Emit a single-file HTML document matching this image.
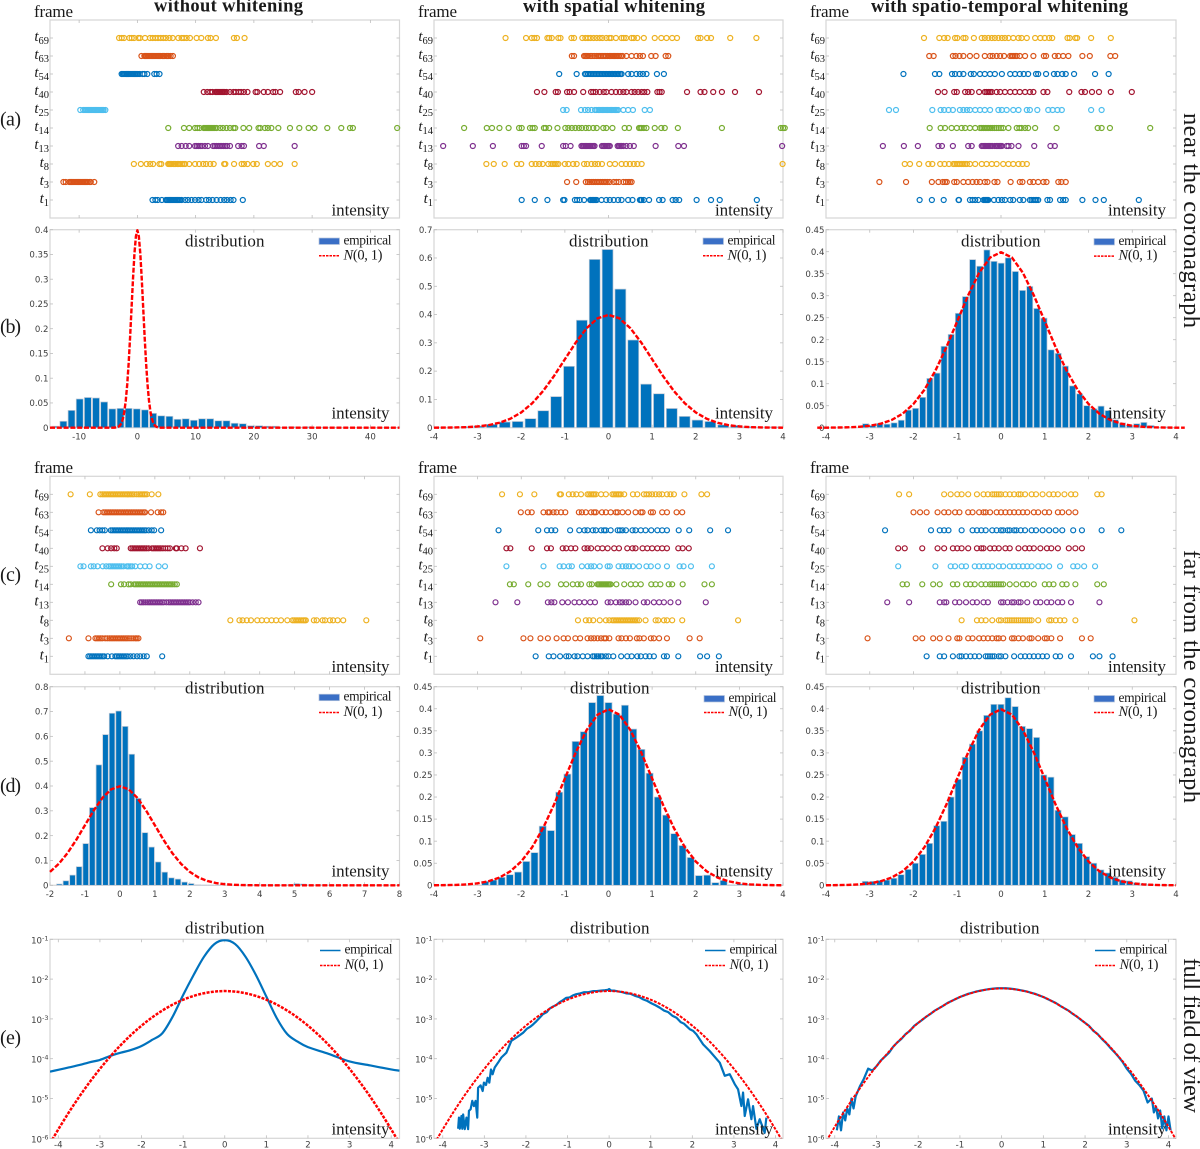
<!DOCTYPE html>
<html lang="en">
<head>
<meta charset="utf-8">
<title>Whitening comparison charts</title>
<style>
html,body{margin:0;padding:0;background:#fff;}
svg{display:block;}
text{font-family:"Liberation Serif","DejaVu Serif",serif;fill:#1a1a1a;}
.num{font-family:"DejaVu Sans","Liberation Sans",sans-serif;font-size:8.6px;fill:#404040;}
</style>
</head>
<body>
<svg id="figure" xmlns="http://www.w3.org/2000/svg" width="1200" height="1149" viewBox="0 0 1200 1149">
<rect x="0" y="0" width="1200" height="1149" fill="#fff"/>
<text x="154" y="11.5" font-size="18.5" font-weight="bold" textLength="149" lengthAdjust="spacing">without whitening</text>
<text x="523" y="12" font-size="18.5" font-weight="bold" textLength="182" lengthAdjust="spacing">with spatial whitening</text>
<text x="871" y="12" font-size="18.5" font-weight="bold" textLength="257" lengthAdjust="spacing">with spatio-temporal whitening</text>
<text x="0" y="125.5" font-size="20" textLength="21">(a)</text>
<text x="0" y="333" font-size="20" textLength="21">(b)</text>
<text x="0" y="581" font-size="20" textLength="21">(c)</text>
<text x="0" y="792" font-size="20" textLength="21">(d)</text>
<text x="0" y="1044" font-size="20" textLength="21">(e)</text>
<text transform="translate(1184 113) rotate(90)" font-size="24.5" textLength="215" lengthAdjust="spacing">near the coronagraph</text>
<text transform="translate(1184 550) rotate(90)" font-size="24.5" textLength="253" lengthAdjust="spacing">far from the coronagraph</text>
<text transform="translate(1184 958) rotate(90)" font-size="24.5" textLength="155" lengthAdjust="spacing">full field of view</text>
</svg>
<script>
// ---------- categories and tick labels ----------
const frameSubscripts = ['1','3','8','13','14','25','40','54','63','69'];
const frameColors = ['#0072BD','#D95319','#EDB120','#7E2F8E','#77AC30','#4DBEEE','#A2142F','#0072BD','#D95319','#EDB120'];
const ticksB1 = [-10,0,10,20,30,40];
const ticksStd = [-4,-3,-2,-1,0,1,2,3,4];
const ticksD1 = [-2,-1,0,1,2,3,4,5,6,7,8];
const stripTicksA1 = [-10,0,10,20,30,40];
const stripTicksA23 = [0];
const stripTicksC1 = [-1,0,1,2,3,4,5,6,7];
const stripTicksC23 = [-3,-2,-1,0,1,2,3];
const yTicksB1 = ['0','0.05','0.1','0.15','0.2','0.25','0.3','0.35','0.4'];
const yTicksB2 = ['0','0.1','0.2','0.3','0.4','0.5','0.6','0.7'];
const yTicks45 = ['0','0.05','0.1','0.15','0.2','0.25','0.3','0.35','0.4','0.45'];
const yTicksD1 = ['0','0.1','0.2','0.3','0.4','0.5','0.6','0.7','0.8'];
const logDecades = [-1,-2,-3,-4,-5,-6];

// ---------- strip plots: one list per frame, t1 t3 t8 t13 t14 t25 t40 t54 t63 t69 ----------
const stripA1 = [
[2.6,3.1,3.5,4.2,4.9,5.1,5.3,5.5,5.7,5.9,6.1,6.3,6.5,6.7,6.9,7.1,7.3,7.6,8.2,8.7,9.3,9.9,10.5,11,11.8,12.3,12.9,13.6,14.3,14.9,15.4,16,16.5,18.1],
[-12.7,-12.3,-11.7,-11.5,-11.3,-11.1,-10.9,-10.7,-10.5,-10.3,-10.1,-9.9,-9.7,-9.5,-9.3,-9.1,-8.9,-8.7,-8.5,-8.2,-8,-7.4],
[-.6,.6,1.6,2.2,2.7,3.8,4.1,5.3,5.5,5.7,5.9,6.2,6.4,6.6,6.9,7.1,7.4,7.7,8,8.2,8.9,9.9,10.6,11.3,11.8,12.5,13.1,14.9,15.1,16.6,17.9,18.3,18.9,19.9,20.5,22.4,23.5,24.5,27],
[7,7.6,8.3,8.9,9.9,10.2,10.5,10.8,11.1,11.6,12.1,13,13.3,13.6,13.9,14.2,14.5,14.8,15.1,15.4,15.9,17.3,17.9,18.3,20.9,21.7,27],
[5.3,8,8.9,9.9,10.3,10.7,11.4,11.6,11.8,12,12.2,12.4,12.6,12.8,13,13.3,13.6,14.2,14.7,15.3,15.9,16.5,16.8,18.2,19.2,20.8,21.1,21.9,22.4,23,24.2,26.2,27.8,29.4,30.4,32.6,35,36.5,37,44.6],
[-9.8,-9.3,-9,-8.8,-8.6,-8.4,-8.2,-8,-7.8,-7.6,-7.4,-7.2,-7,-6.8,-6.6,-6.4,-6.2,-6,-5.8,-5.5],
[11.4,12,12.5,12.9,13.4,13.6,13.8,14,14.2,14.4,14.6,14.8,15,15.3,15.9,16.5,16.9,17.4,17.8,18.3,18.9,20.3,20.6,21.7,22.4,23.3,23.7,24.5,27.2,27.7,28.7,30],
[-2.7,-2.5,-2.3,-2.1,-1.9,-1.7,-1.5,-1.3,-1.1,-.9,-.7,-.5,-.3,-.1,.1,.4,.9,1.2,1.7,2.9,3.3,3.8],
[.7,1.2,1.4,1.6,1.8,2,2.2,2.4,2.6,2.8,3,3.2,3.4,3.6,3.8,4,4.3,4.5,4.7,5,5.2,5.4,5.7,6.1],
[-3.14,-2.69,-2.29,-1.37,-.97,-.57,.17,.46,1.31,2.17,2.63,3.09,3.54,4,4.46,4.91,5.49,6.06,7.03,7.6,8,8.46,9.03,10.17,10.97,12.11,12.57,13.49,16.57,17.09,18.4]
];
const stripA2 = [
[-1.99,-1.69,-1.4,-1.04,-1.01,-.77,-.72,-.66,-.56,-.42,-.4,-.37,-.35,-.33,-.3,-.27,-.16,-.05,.03,.12,.22,.3,.45,.55,.72,.74,.76,.81,.93,1.16,1.24,1.47,1.54,1.62,2.02,2.35,2.55,3.4],
[-.95,-.74,-.52,-.47,-.43,-.38,-.34,-.3,-.26,-.22,-.18,-.14,-.1,-.06,-.02,.03,.12,.18,.24,.34,.4,.45,.49,.53],
[-2.8,-2.63,-2.38,-2.1,-2,-1.76,-1.67,-1.59,-1.51,-1.38,-1.31,-1.27,-1.23,-1.19,-1.15,-1,-.92,-.81,-.73,-.56,-.49,-.39,-.31,-.24,-.15,.03,.15,.3,.4,.49,.58,.66,.76,3.99],
[-3.79,-3.11,-2.65,-1.99,-1.94,-1.89,-1.53,-1.04,-.98,-.87,-.62,-.59,-.56,-.53,-.5,-.47,-.44,-.41,-.38,-.35,-.32,-.15,-.12,-.09,-.06,-.03,0,.03,.21,.24,.27,.3,.34,.41,.49,.58,1.08,1.6,1.73,3.98],
[-3.31,-2.79,-2.67,-2.5,-2.29,-2.05,-1.99,-1.8,-1.74,-1.69,-1.48,-1.44,-1.36,-1.17,-.99,-.92,-.84,-.76,-.68,-.61,-.52,-.45,-.35,-.27,-.12,-.05,.09,.37,.47,.7,.73,.76,.81,.87,1.06,1.21,1.29,1.59,2.6,3.95,4,4.04],
[-1.04,-.96,-.63,-.54,-.47,-.39,-.31,-.27,-.23,-.2,-.17,-.14,-.11,-.08,-.05,-.02,.01,.04,.07,.1,.13,.16,.19,.22,.34,.45,.56,.83,.95],
[-1.64,-1.47,-1.21,-1.16,-.95,-.89,-.79,-.58,-.4,-.35,-.29,-.2,-.11,-.05,.07,.17,.26,.34,.41,.53,.6,.68,.76,.82,.89,1.12,1.17,1.22,1.8,2.11,2.2,2.4,2.6,2.9,3.45],
[-1.13,-.73,-.54,-.51,-.47,-.43,-.4,-.36,-.33,-.29,-.26,-.22,-.19,-.15,-.12,-.08,-.05,-.01,.02,.06,.09,.13,.16,.2,.23,.27,.3,.45,.53,.64,.72,.79,.87,1.11,1.27],
[-.84,-.79,-.56,-.53,-.5,-.47,-.42,-.38,-.33,-.28,-.24,-.2,-.17,-.13,-.1,-.06,-.02,.02,.05,.08,.11,.14,.17,.2,.24,.28,.32,.41,.53,.64,.72,.79,.98,1.08,1.31,1.37],
[-2.36,-1.89,-1.76,-1.7,-1.64,-1.4,-1.36,-1.3,-1.15,-1.1,-.85,-.79,-.6,-.53,-.47,-.41,-.34,-.27,-.2,-.14,-.05,.02,.06,.17,.3,.35,.4,.53,.58,.66,.81,1.06,1.21,1.33,1.46,1.57,2.05,2.11,2.26,2.35,2.79,3.39]
];
const stripA3 = [
[-1.86,-1.58,-1.31,-.97,-.96,-.71,-.65,-.59,-.52,-.4,-.37,-.35,-.33,-.31,-.29,-.16,-.06,.02,.09,.21,.28,.43,.51,.66,.7,.74,.78,.81,.85,1.06,1.12,1.35,1.42,1.48,1.86,2.16,2.35,3.15],
[-2.78,-2.17,-1.58,-1.43,-1.33,-1.28,-1.24,-1.07,-1.01,-.86,-.75,-.65,-.56,-.48,-.37,-.31,-.15,-.08,.22,.43,.49,.66,.74,.85,.97,1.04,1.31,1.38,1.48],
[-2.2,-2.08,-1.87,-1.66,-1.57,-1.39,-1.29,-1.19,-1.09,-1.05,-1.01,-.97,-.94,-.9,-.86,-.82,-.78,-.71,-.59,-.44,-.33,-.21,-.1,.05,.17,.28,.4,.49,.59],
[-2.7,-2.22,-1.9,-1.43,-1.35,-1.1,-.75,-.67,-.44,-.41,-.38,-.35,-.32,-.29,-.26,-.23,-.2,-.14,-.1,-.07,-.04,-.01,.02,.13,.17,.24,.4,.76,1.13,1.23],
[-1.63,-1.38,-1.28,-1.13,-1.01,-.9,-.82,-.71,-.59,-.48,-.44,-.4,-.36,-.32,-.28,-.24,-.2,-.15,-.1,-.05,0,.05,.17,.36,.42,.47,.55,.62,.78,1.27,2.21,2.3,2.49,3.41],
[-2.56,-2.4,-1.57,-1.38,-1.3,-1.2,-1.1,-.94,-.86,-.78,-.71,-.59,-.48,-.37,-.25,-.06,.02,.13,.28,.4,.59,.66,.83,1.08,1.18,1.29,1.39,2.06,2.3],
[-1.44,-1.29,-1.07,-1.01,-.82,-.75,-.67,-.5,-.37,-.33,-.29,-.25,-.21,-.1,-.02,.09,.21,.32,.43,.55,.66,.74,.97,1.06,1.56,1.84,1.92,2.08,2.24,2.51,2.99],
[-2.23,-1.51,-1.41,-1.12,-1.05,-.95,-.86,-.69,-.62,-.48,-.37,-.25,-.14,.02,.21,.32,.43,.52,.62,.8,.85,1.03,1.21,1.29,1.4,1.48,1.67,2.15,2.46],
[-1.64,-1.54,-1.1,-1.04,-.95,-.86,-.71,-.56,-.37,-.25,-.19,-.1,-.02,.07,.21,.25,.28,.32,.36,.43,.55,.74,.98,1.03,1.23,1.31,1.42,1.54,1.86,2.03,2.5,2.61],
[-1.76,-1.41,-1.3,-1.22,-1.05,-1,-.86,-.81,-.62,-.44,-.37,-.29,-.21,-.14,-.06,.02,.09,.17,.28,.4,.47,.59,.78,.9,1,1.1,1.17,1.52,1.57,1.7,1.74,2.06,2.51]
];
const stripC1 = [
[-.9,-.85,-.8,-.75,-.7,-.65,-.6,-.55,-.5,-.45,-.35,-.23,-.13,-.08,-.03,.02,.07,.12,.17,.22,.3,.39,.49,.58,.68,.77,1.21],
[-1.46,-.9,-.7,-.65,-.6,-.55,-.5,-.42,-.36,-.3,-.25,-.2,-.15,-.1,-.05,0,.05,.1,.15,.2,.26,.32,.38,.44,.48,.53],
[3.16,3.42,3.51,3.63,3.75,3.93,4.06,4.2,4.34,4.47,4.61,4.79,4.94,4.99,5.04,5.09,5.14,5.19,5.24,5.28,5.32,5.55,5.63,5.8,5.87,6.01,6.1,6.23,6.39,7.05],
[.58,.63,.68,.74,.8,.85,.9,.95,1,1.05,1.1,1.15,1.2,1.25,1.33,1.4,1.45,1.5,1.55,1.6,1.65,1.7,1.75,1.8,1.85,1.9,1.95,2,2.08,2.17,2.25],
[-.25,.03,.12,.25,.31,.41,.46,.51,.56,.61,.66,.71,.76,.81,.86,.91,.96,1.01,1.06,1.11,1.16,1.21,1.26,1.31,1.36,1.41,1.46,1.51,1.57,1.63],
[-1.13,-1.04,-.83,-.75,-.64,-.49,-.39,-.31,-.26,-.21,-.16,-.11,-.06,-.01,.04,.1,.2,.25,.3,.35,.44,.58,.72,.85,1.11,1.29],
[-.5,-.35,-.25,-.16,-.09,.31,.36,.41,.46,.51,.56,.61,.66,.71,.76,.82,.92,.97,1.02,1.07,1.12,1.17,1.23,1.3,1.37,1.43,1.6,1.63,1.76,1.88,2.29],
[-.83,-.66,-.58,-.5,-.43,-.26,-.21,-.16,-.11,-.06,-.01,.04,.09,.14,.19,.24,.29,.34,.39,.44,.49,.54,.59,.64,.69,.74,.82,.91,.98,1.18],
[-.61,-.47,-.42,-.37,-.32,-.27,-.22,-.17,-.12,-.07,-.02,.03,.08,.13,.18,.23,.28,.33,.38,.43,.48,.53,.58,.63,.68,.72,.89,1.08,1.18,1.24],
[-1.41,-.86,-.56,-.5,-.45,-.4,-.35,-.3,-.25,-.2,-.15,-.1,-.05,0,.05,.1,.15,.2,.25,.3,.35,.4,.47,.53,.58,.63,.68,.72,.77,.91,1.1]
];
const stripC2 = [
[-1.67,-1.37,-1.26,-1.11,-.97,-.91,-.78,-.71,-.59,-.48,-.36,-.32,-.27,-.23,-.18,-.14,-.06,0,.11,.29,.43,.53,.66,.74,.85,.94,1.04,1.27,1.34,1.6,2.1,2.26,2.53],
[-2.94,-1.95,-1.79,-1.56,-1.39,-1.19,-1.03,-.93,-.76,-.65,-.48,-.4,-.33,-.25,-.17,-.1,-.06,.02,.23,.3,.4,.49,.65,.71,.81,.97,1.04,1.16,1.34,1.86,2.09],
[-.7,-.52,-.44,-.35,-.2,-.06,.02,.09,.13,.17,.21,.25,.29,.33,.37,.41,.45,.49,.53,.57,.61,.65,.7,.85,1.08,1.14,1.27,1.34,1.46,1.69,2.97],
[-2.59,-2.09,-1.39,-1.31,-1.24,-1.06,-.93,-.78,-.67,-.55,-.42,-.31,-.02,.05,.17,.26,.32,.4,.47,.62,.81,.89,1.04,1.16,1.27,1.42,1.6,2.23],
[-2.26,-2.17,-1.84,-1.56,-1.4,-1.09,-.97,-.82,-.71,-.63,-.44,-.38,-.25,-.22,-.19,-.16,-.13,-.1,-.07,-.04,-.01,.02,.05,.18,.36,.51,.62,.74,.98,1.08,1.19,1.38,1.46,1.7,2.2,2.37],
[-2.34,-1.49,-1.12,-1.03,-.91,-.84,-.61,-.48,-.4,-.33,-.2,-.02,.03,.23,.32,.4,.47,.56,.7,.87,.97,1.13,1.34,1.63,1.72,1.89,2.37],
[-2.34,-2.25,-1.76,-1.41,-1.32,-1.05,-.97,-.86,-.76,-.55,-.48,-.4,-.25,-.14,-.02,.13,.24,.43,.55,.62,.78,.89,1,1.12,1.23,1.34,1.6,1.7,1.84],
[-2.52,-1.61,-1.41,-1.31,-1.22,-.88,-.67,-.55,-.48,-.36,-.29,-.17,-.1,-.06,.05,.21,.26,.32,.4,.55,.62,.74,.85,.98,1.12,1.23,1.34,1.61,1.85,2.33,2.74],
[-2.01,-1.85,-1.76,-1.49,-1.39,-1.35,-1.26,-1.19,-1.09,-.99,-.68,-.61,-.52,-.4,-.33,-.29,-.15,-.06,.05,.17,.21,.32,.45,.62,.74,.78,.97,1.02,1.23,1.34,1.56,1.69],
[-2.44,-2.03,-1.7,-1.12,-1.09,-.91,-.82,-.74,-.63,-.48,-.44,-.4,-.36,-.33,-.29,-.17,-.06,.09,.13,.17,.21,.24,.28,.36,.56,.66,.81,.87,.93,1,1.08,1.16,1.23,1.34,1.42,1.5,1.74,2.13,2.26]
];
const stripC3 = [
[-1.7,-1.4,-1.3,-1.1,-.95,-.9,-.8,-.7,-.6,-.5,-.35,-.3,-.25,-.2,-.15,-.05,0,.1,.3,.45,.55,.65,.75,.85,.95,1.05,1.25,1.35,1.6,2.1,2.25,2.55],
[-3.05,-1.95,-1.8,-1.55,-1.4,-1.2,-1,-.95,-.75,-.65,-.5,-.4,-.3,-.2,-.1,-.05,.05,.25,.3,.4,.5,.65,.7,.85,1,1.05,1.15,1.35,1.85,2.05],
[-.9,-.55,-.45,-.35,-.2,-.05,0,.1,.15,.2,.25,.3,.35,.4,.45,.5,.55,.6,.65,.7,.85,1.1,1.15,1.25,1.35,1.45,1.7,3.05],
[-2.6,-2.1,-1.4,-1.3,-1.25,-1.05,-.95,-.8,-.65,-.55,-.4,-.3,0,.05,.15,.25,.3,.4,.45,.6,.8,.9,1.05,1.15,1.3,1.4,1.6,2.25],
[-2.25,-2.15,-1.8,-1.55,-1.4,-1.1,-1,-.8,-.7,-.6,-.45,-.35,-.25,-.2,-.15,-.1,-.05,0,.05,.2,.35,.5,.6,.75,1,1.1,1.2,1.4,1.5,1.7,2.2,2.35],
[-2.35,-1.5,-1.15,-1.05,-.9,-.8,-.6,-.5,-.4,-.3,-.2,-.05,.05,.2,.3,.4,.5,.6,.7,.85,.95,1.1,1.35,1.65,1.75,1.9,2.15],
[-2.35,-2.2,-1.8,-1.45,-1.3,-1.1,-1,-.9,-.75,-.55,-.45,-.4,-.25,-.15,-.05,.1,.2,.4,.55,.65,.75,.9,1.05,1.15,1.3,1.55,1.7,1.85],
[-2.65,-1.6,-1.4,-1.3,-1.2,-.9,-.65,-.55,-.45,-.35,-.2,-.1,0,.05,.15,.2,.3,.35,.45,.55,.7,.8,.95,1.1,1.25,1.4,1.65,1.85,2.3,2.75],
[-2,-1.85,-1.7,-1.45,-1.3,-1.2,-1.05,-.95,-.75,-.65,-.5,-.4,-.35,-.25,-.1,0,.1,.2,.3,.4,.5,.6,.75,.85,1,1.1,1.3,1.4,1.55,1.7],
[-2.33,-2.1,-1.3,-1.15,-1,-.9,-.75,-.55,-.4,-.3,-.2,-.15,-.1,-.05,0,.1,.2,.3,.4,.45,.55,.7,.8,.95,1.1,1.2,1.3,1.45,1.6,1.7,2.2,2.3]
];

// ---------- histogram heights (bin start and width per panel) ----------
const histB1 = [.003,.013,.035,.058,.061,.06,.052,.038,.039,.039,.038,.036,.029,.024,.023,.017,.018,.015,.018,.018,.014,.014,.009,.008,.004,.004,.003,.003,.001,.002,.001,.002,.001,.001,.001];
const histB1Start = -14.1;
const histB1Width = 1.4;
const histB2 = [.002,.002,.004,.006,.012,.02,.022,.032,.06,.11,.217,.38,.595,.63,.49,.31,.154,.12,.068,.04,.027,.022,.01,.008,.004,.002,.003];
const histB2Start = -3.85;
const histB2Width = .2945;
const histB3 = [.009,.005,.01,.008,.011,.017,.04,.044,.069,.112,.124,.185,.212,.26,.298,.382,.367,.404,.378,.374,.386,.355,.312,.321,.271,.249,.177,.169,.14,.095,.077,.05,.043,.049,.039,.018,.011,.006,.009,.012,.005,.001,.002];
const histB3Start = -3.095;
const histB3Width = .1631;
const histD1 = [.005,.018,.041,.075,.168,.313,.485,.607,.693,.702,.64,.528,.35,.212,.154,.094,.053,.03,.025,.013,.007,.002,.001,.001,.001,0,0,0,.001,.001,.002,.002,.002,.001,.001,.002,.007,.005,.002,.001,.002,.001];
const histD1Start = -1.733;
const histD1Width = .1886;
const histD2 = [.009,.012,.018,.024,.03,.054,.074,.134,.124,.211,.252,.326,.348,.414,.43,.414,.388,.408,.354,.308,.254,.2,.159,.117,.09,.063,.022,.023,.006,.011,.001,.003,.002,.001];
const histD2Start = -2.827;
const histD2Width = .1885;
const histD3 = [.009,.009,.011,.012,.016,.024,.036,.05,.07,.095,.135,.145,.2,.24,.29,.32,.35,.385,.41,.41,.425,.405,.36,.355,.335,.25,.245,.17,.155,.115,.095,.065,.05,.035,.028,.018,.012,.01,.006,.004,.002,.001,.001];
const histD3Start = -3.1;
const histD3Width = .1631;

// ---------- reference normal density ----------
const gaussX = [-15,-4.2,-4,-3.75,-3.5,-3.25,-3,-2.75,-2.5,-2.25,-2,-1.75,-1.5,-1.25,-1,-.75,-.5,-.25,0,.25,.5,.75,1,1.25,1.5,1.75,2,2.25,2.5,2.75,3,3.25,3.5,3.75,4,4.2,8,45];
const gaussY = [0,.0001,.0001,.0004,.0009,.002,.0044,.0091,.0175,.0317,.054,.0863,.1295,.1826,.242,.3011,.3521,.3867,.3989,.3867,.3521,.3011,.242,.1826,.1295,.0863,.054,.0317,.0175,.0091,.0044,.002,.0009,.0004,.0001,.0001,0,0];

// ---------- log panels: x and log10(density) ----------
const logRefX = [-4.2,-4,-3.75,-3.5,-3.25,-3,-2.75,-2.5,-2.25,-2,-1.75,-1.5,-1.25,-1,-.75,-.5,-.25,0,.25,.5,.75,1,1.25,1.5,1.75,2,2.25,2.5,2.75,3,3.25,3.5,3.75,4,4.2];
const logRefE12 = [-6.13,-5.775,-5.354,-4.96,-4.594,-4.255,-3.943,-3.658,-3.4,-3.17,-2.966,-2.79,-2.64,-2.518,-2.423,-2.355,-2.315,-2.3,-2.315,-2.355,-2.423,-2.518,-2.64,-2.79,-2.966,-3.17,-3.4,-3.658,-3.943,-4.255,-4.594,-4.96,-5.354,-5.775,-6.13];
const logRefE3 = [-6.07,-5.71,-5.29,-4.9,-4.53,-4.19,-3.88,-3.59,-3.34,-3.1,-2.9,-2.73,-2.58,-2.45,-2.36,-2.29,-2.25,-2.235,-2.25,-2.29,-2.36,-2.45,-2.58,-2.73,-2.9,-3.1,-3.34,-3.59,-3.88,-4.19,-4.53,-4.9,-5.29,-5.71,-6.07];
const empE1X = [-4.2,-4,-3.75,-3.5,-3.25,-3,-2.75,-2.5,-2.25,-2,-1.75,-1.5,-1.25,-1,-.75,-.5,-.25,0,.25,.5,.75,1,1.25,1.5,1.75,2,2.5,3,3.5,4,4.2];
const empE1Log = [-4.325,-4.28,-4.22,-4.16,-4.09,-4.03,-3.93,-3.85,-3.78,-3.68,-3.53,-3.36,-2.94,-2.4,-1.9,-1.44,-1.12,-1.02,-1.12,-1.44,-1.9,-2.44,-2.98,-3.38,-3.57,-3.71,-3.88,-4.07,-4.17,-4.27,-4.3];
const empE2X = [-3.63,-3.61,-3.59,-3.55,-3.53,-3.51,-3.47,-3.43,-3.39,-3.37,-3.33,-3.29,-3.25,-3.21,-3.17,-3.15,-3.09,-3.04,-3.01,-2.96,-2.92,-2.88,-2.84,-2.8,-2.75,-2.67,-2.59,-2.47,-2.35,-2.23,-2.07,-1.98,-1.9,-1.83,-1.75,-1.67,-1.59,-1.5,-1.43,-1.35,-1.27,-1.19,-1.11,-1.03,-.95,-.87,-.79,-.7,-.6,-.5,-.38,-.3,-.2,-.1,-.03,0,.05,.13,.22,.32,.42,.52,.62,.72,.82,.92,1.02,1.12,1.22,1.32,1.42,1.52,1.62,1.72,1.8,1.86,1.94,2.02,2.1,2.26,2.42,2.66,2.78,2.9,3.02,3.1,3.18,3.22,3.26,3.34,3.42,3.46,3.54,3.62,3.74,3.78];
const empE2Log = [-5.76,-5.48,-5.76,-5.44,-5.76,-5.4,-5.77,-5.48,-5.77,-5.31,-5.27,-5.06,-5.19,-5.06,-5.48,-4.73,-4.67,-4.81,-4.6,-4.66,-4.48,-4.6,-4.27,-4.39,-4.22,-4.1,-3.97,-3.85,-3.55,-3.47,-3.35,-3.25,-3.2,-3.14,-3.06,-2.97,-2.88,-2.83,-2.74,-2.69,-2.65,-2.58,-2.53,-2.47,-2.46,-2.41,-2.38,-2.36,-2.33,-2.33,-2.3,-2.3,-2.29,-2.28,-2.27,-2.25,-2.29,-2.29,-2.31,-2.33,-2.36,-2.37,-2.42,-2.45,-2.51,-2.55,-2.61,-2.66,-2.72,-2.79,-2.83,-2.92,-2.97,-3.08,-3.12,-3.18,-3.26,-3.3,-3.39,-3.64,-3.81,-4.1,-4.43,-4.39,-4.64,-4.77,-5.19,-4.85,-5.44,-5.02,-5.52,-5.19,-5.76,-5.52,-5.86,-5.48];
const empE3X = [-3.95,-3.9,-3.85,-3.8,-3.75,-3.7,-3.65,-3.6,-3.55,-3.5,-3.4,-3.3,-3.2,-3.1,-3,-2.9,-2.8,-2.7,-2.6,-2.5,-2.4,-2.3,-2.2,-2.1,-2,-1.9,-1.8,-1.7,-1.6,-1.5,-1.4,-1.3,-1.2,-1.1,-1,-.9,-.8,-.7,-.6,-.5,-.4,-.3,-.2,-.1,0,.1,.2,.3,.4,.5,.6,.7,.8,.9,1,1.1,1.2,1.3,1.4,1.5,1.6,1.7,1.8,1.9,2,2.1,2.2,2.3,2.4,2.5,2.6,2.7,2.8,2.9,3,3.1,3.2,3.3,3.4,3.5,3.6,3.65,3.7,3.75,3.8,3.85,3.9,3.95,4,4.05];
const empE3Log = [-5.8,-5.45,-5.8,-5.35,-5.55,-5.25,-5.4,-5,-5.25,-4.95,-4.7,-4.5,-4.25,-4.3,-4.19,-4.05,-3.95,-3.85,-3.7,-3.59,-3.5,-3.38,-3.3,-3.18,-3.1,-3.02,-2.94,-2.87,-2.79,-2.73,-2.67,-2.6,-2.55,-2.5,-2.45,-2.41,-2.37,-2.34,-2.31,-2.29,-2.27,-2.25,-2.24,-2.23,-2.23,-2.23,-2.24,-2.25,-2.27,-2.29,-2.31,-2.34,-2.37,-2.41,-2.45,-2.5,-2.55,-2.6,-2.67,-2.73,-2.79,-2.87,-2.94,-3.02,-3.1,-3.18,-3.3,-3.38,-3.5,-3.6,-3.72,-3.83,-3.95,-4.08,-4.25,-4.38,-4.55,-4.66,-4.8,-5.1,-5,-5.35,-5.2,-5.5,-5.3,-5.75,-5.45,-5.8,-5.45,-5.8];

// ---------- layout (not data) ----------
const SVG_NS = 'http://www.w3.org/2000/svg';
const figure = document.getElementById('figure');
const colBox = [{l:50,r:399.5},{l:434,r:783},{l:826,r:1176}];
const rowBox = {a:{t:20,b:218},b:{t:229.7,b:427.7},c:{t:476.3,b:674.3},d:{t:686.7,b:885.3},e:{t:939.3,b:1138.3}};
const BLUE = '#0072BD';
const RED = '#FF0000';
const AXIS = '#d6d6d6';

function mk(tag, attrs, parent){
  const el = document.createElementNS(SVG_NS, tag);
  for (const k in attrs) el.setAttribute(k, attrs[k]);
  parent.appendChild(el);
  return el;
}
function linear(d0, d1, p0, p1){
  return function(v){ return p0 + (v - d0) * (p1 - p0) / (d1 - d0); };
}
function label(parent, str, x, y, size, len, name){
  const el = mk('text', {x:x, y:y, 'font-size':size, textLength:len, lengthAdjust:'spacing'}, parent);
  el.textContent = str;
  
  
  return el;
}
function axisFrame(g, box){
  const f = mk('rect', {x:box.l, y:box.t, width:box.r-box.l, height:box.b-box.t, fill:'#fff', stroke:AXIS, 'stroke-width':1.2}, g);
  
  
}
function tickMarkX(g, px, box){
  [[box.b, box.b-3],[box.t, box.t+3]].forEach(function(p){
    const t = mk('line', {x1:px, x2:px, y1:p[0], y2:p[1], stroke:'#bdbdbd', 'stroke-width':0.8}, g);
    
    
  });
}
function tickMarkY(g, py, box){
  [[box.l, box.l+3],[box.r, box.r-3]].forEach(function(p){
    const t = mk('line', {y1:py, y2:py, x1:p[0], x2:p[1], stroke:'#bdbdbd', 'stroke-width':0.8}, g);
    
    
  });
}
function xTickLabel(g, v, px, y){
  const t = mk('text', {x:px, y:y, 'text-anchor':'middle', 'class':'num'}, g);
  t.textContent = String(v);
  
  
}
function yTickLabel(g, str, px, py){
  const t = mk('text', {x:px, y:py+3.1, 'text-anchor':'end', 'class':'num'}, g);
  t.textContent = str;
  
  
}
function polyline(g, xs, ys, sx, sy, opts, name, smooth){
  const pts = xs.map(function(x, i){ return [sx(x), sy(ys[i])]; });
  let d = 'M' + pts[0][0].toFixed(2) + ' ' + pts[0][1].toFixed(2);
  for (let i = 1; i < pts.length; i++){
    if (smooth){
      const p0 = pts[Math.max(i-2,0)], p1 = pts[i-1], p2 = pts[i], p3 = pts[Math.min(i+1,pts.length-1)];
      d += 'C' + (p1[0]+(p2[0]-p0[0])/6).toFixed(2) + ' ' + (p1[1]+(p2[1]-p0[1])/6).toFixed(2) + ' ' +
           (p2[0]-(p3[0]-p1[0])/6).toFixed(2) + ' ' + (p2[1]-(p3[1]-p1[1])/6).toFixed(2) + ' ' +
           p2[0].toFixed(2) + ' ' + p2[1].toFixed(2);
    } else {
      d += 'L' + pts[i][0].toFixed(2) + ' ' + pts[i][1].toFixed(2);
    }
  }
  const attrs = {d:d, fill:'none', 'stroke-linejoin':'round'};
  for (const k in opts) attrs[k] = opts[k];
  const p = mk('path', attrs, g);
  
  
  return p;
}
function legend(g, lx, kind, yEmp, yRef){
  if (kind === 'bar'){
    const s = mk('rect', {x:lx, y:yEmp-6.5, width:20.5, height:6.5, fill:'#3a6fc6', stroke:'#b9c6dc', 'stroke-width':0.7}, g);
    
    
  } else {
    const s = mk('line', {x1:lx, x2:lx+20.5, y1:yEmp-3, y2:yEmp-3, stroke:BLUE, 'stroke-width':1.5}, g);
    
    
  }
  label(g, 'empirical', lx+24.5, yEmp, 13.5, 48, 'legend-entry-empirical');
  const r = mk('line', {x1:lx, x2:lx+20.5, y1:yRef-3.5, y2:yRef-3.5, stroke:RED, 'stroke-width':1.5, 'stroke-dasharray':'2.5 1'}, g);
  
  
  const t = mk('text', {x:lx+24.5, y:yRef, 'font-size':14.5, textLength:39, lengthAdjust:'spacing'}, g);
  
  
  const n = mk('tspan', {'font-style':'italic'}, t);
  n.textContent = 'N';
  const rest = mk('tspan', {}, t);
  rest.textContent = '(0, 1)';
}

function drawStrip(name, colIdx, rowKey, data, d0, d1, ticks, frameY){
  const box = {l:colBox[colIdx].l, r:colBox[colIdx].r, t:rowBox[rowKey].t, b:rowBox[rowKey].b};
  const g = mk('g', {}, figure);
  
  
  axisFrame(g, box);
  const sx = linear(d0, d1, box.l, box.r);
  const sy = linear(0, 11, box.b, box.t);
  ticks.forEach(function(v){ tickMarkX(g, sx(v), box); });
  frameSubscripts.forEach(function(sub, i){
    const py = sy(i+1);
    tickMarkY(g, py, box);
    const t = mk('text', {x:box.l-1, y:py+3, 'text-anchor':'end', 'font-size':15}, g);
    
    
    const a = mk('tspan', {'font-style':'italic'}, t);
    a.textContent = 't';
    const b = mk('tspan', {'font-size':10.5, dy:3}, t);
    b.textContent = sub;
    data[i].forEach(function(v){
      const c = mk('circle', {cx:sx(v).toFixed(2), cy:py.toFixed(2), r:2.5, fill:'none', stroke:frameColors[i], 'stroke-width':1.2}, g);
      
      
    });
  });
  label(g, 'frame', box.l-16, frameY, 17, 39, 'y-axis-title');
  label(g, 'intensity', box.r-68, box.b-2.5, 17, 58, 'x-axis-title');
}

function drawHist(name, colIdx, rowKey, heights, binStart, binWidth, d0, d1, yMax, yLabels, xTicks, curveRange, distX, distY, legX, legE, legR){
  const box = {l:colBox[colIdx].l, r:colBox[colIdx].r, t:rowBox[rowKey].t, b:rowBox[rowKey].b};
  const g = mk('g', {}, figure);
  
  
  axisFrame(g, box);
  const sx = linear(d0, d1, box.l, box.r);
  const sy = linear(0, yMax, box.b, box.t);
  xTicks.forEach(function(v){
    tickMarkX(g, sx(v), box);
    xTickLabel(g, v, sx(v), box.b + 11.8);
  });
  yLabels.forEach(function(s){
    const py = sy(parseFloat(s));
    tickMarkY(g, py, box);
    yTickLabel(g, s, box.l-1.5, py);
  });
  heights.forEach(function(h, i){
    if (h <= 0) return;
    const cx = binStart + i * binWidth;
    const w = sx(binWidth * 0.85) - sx(0);
    const r = mk('rect', {x:(sx(cx)-w/2).toFixed(2), y:sy(h).toFixed(2), width:w.toFixed(2), height:(box.b-sy(h)).toFixed(2), fill:BLUE, stroke:'#c2cad6', 'stroke-width':0.7}, g);
    
    
  });
  const xs = [], ys = [];
  gaussX.forEach(function(x, i){
    if (x >= curveRange[0] && x <= curveRange[1]) { xs.push(x); ys.push(gaussY[i]); }
  });
  polyline(g, xs, ys, sx, sy, {stroke:RED, 'stroke-width':2.4, 'stroke-dasharray':'5 1.8'}, 'normal-density-curve', false);
  label(g, 'distribution', distX, distY + 0.8, 17, 79.5, 'panel-title-distribution');
  label(g, 'intensity', box.r-68, box.b-9, 17, 58, 'x-axis-title');
  legend(g, legX, 'bar', legE, legR);
}

function drawLog(name, colIdx, d0, d1, refLog, empX, empLog, empSmooth, distX, legX, refWidth, empWidth){
  const box = {l:colBox[colIdx].l, r:colBox[colIdx].r, t:rowBox.e.t, b:rowBox.e.b};
  const g = mk('g', {}, figure);
  
  
  axisFrame(g, box);
  const sx = linear(d0, d1, box.l, box.r);
  const sy = linear(-6, -1, box.b, box.t);
  ticksStd.forEach(function(v){
    tickMarkX(g, sx(v), box);
    xTickLabel(g, v, sx(v), box.b + 9);
  });
  logDecades.forEach(function(dec){
    const py = sy(dec);
    tickMarkY(g, py, box);
    const t = mk('text', {x:box.l-1.5, y:py+4, 'text-anchor':'end', 'class':'num'}, g);
    
    
    const a = mk('tspan', {}, t);
    a.textContent = '10';
    const b = mk('tspan', {'font-size':6.5, dy:-3}, t);
    b.textContent = String(dec);
  });
  const clipId = name + '-clip';
  const cp = mk('clipPath', {id:clipId}, g);
  
  
  const cr = mk('rect', {x:box.l, y:box.t, width:box.r-box.l, height:box.b-box.t}, cp);
  
  
  const e = polyline(g, empX, empLog, sx, sy, {stroke:BLUE, 'stroke-width':empWidth}, 'empirical-curve', empSmooth);
  e.setAttribute('clip-path', 'url(#' + clipId + ')');
  const r = polyline(g, logRefX, refLog, sx, sy, {stroke:RED, 'stroke-width':refWidth, 'stroke-dasharray':'3 1.3'}, 'normal-density-curve', true);
  r.setAttribute('clip-path', 'url(#' + clipId + ')');
  label(g, 'distribution', distX, 933.5, 17, 79.5, 'panel-title-distribution');
  label(g, 'intensity', box.r-68, box.b-4, 17, 58, 'x-axis-title');
  legend(g, legX, 'line', 953.5, 969);
}

drawStrip('strip-near-no-whitening', 0, 'a', stripA1, -15, 45, stripTicksA1, 17);
drawStrip('strip-near-spatial', 1, 'a', stripA2, -4, 4, stripTicksA23, 17);
drawStrip('strip-near-spatio-temporal', 2, 'a', stripA3, -4, 4, stripTicksA23, 17);
drawStrip('strip-far-no-whitening', 0, 'c', stripC1, -2, 8, stripTicksC1, 473);
drawStrip('strip-far-spatial', 1, 'c', stripC2, -4, 4, stripTicksC23, 473);
drawStrip('strip-far-spatio-temporal', 2, 'c', stripC3, -4, 4, stripTicksC23, 473);

drawHist('hist-near-no-whitening', 0, 'b', histB1, histB1Start, histB1Width, -15, 45, .4, yTicksB1, ticksB1, [-15,45], 185, 245.7, 319, 244.5, 259.3);
drawHist('hist-near-spatial', 1, 'b', histB2, histB2Start, histB2Width, -4, 4, .7, yTicksB2, ticksStd, [-4,4], 569, 245.7, 703, 244.5, 259.3);
drawHist('hist-near-spatio-temporal', 2, 'b', histB3, histB3Start, histB3Width, -4, 4, .45, yTicks45, ticksStd, [-4.2,4.2], 961, 245.7, 1094, 245, 259.6);
drawHist('hist-far-no-whitening', 0, 'd', histD1, histD1Start, histD1Width, -2, 8, .8, yTicksD1, ticksD1, [-2,8], 185, 692.7, 319, 700.7, 716);
drawHist('hist-far-spatial', 1, 'd', histD2, histD2Start, histD2Width, -4, 4, .45, yTicks45, ticksStd, [-4,4], 570, 692.7, 704, 702, 716);
drawHist('hist-far-spatio-temporal', 2, 'd', histD3, histD3Start, histD3Width, -4, 4, .45, yTicks45, ticksStd, [-4,4], 961, 692.7, 1094, 702, 716);

drawLog('log-no-whitening', 0, -4.2, 4.2, logRefE12, empE1X, empE1Log, true, 185, 320, 2.5, 2.2);
drawLog('log-spatial', 1, -4.21, 4.18, logRefE12, empE2X, empE2Log, false, 570, 705, 2, 2.2);
drawLog('log-spatio-temporal', 2, -4.21, 4.18, logRefE3, empE3X, empE3Log, false, 960, 1095, 1.9, 2.2);
</script>
</body>
</html>
